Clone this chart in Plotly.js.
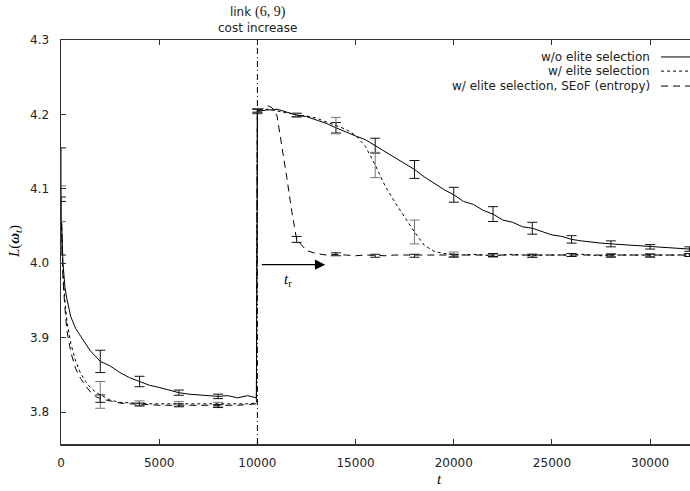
<!DOCTYPE html>
<html>
<head>
<meta charset="utf-8">
<script src="https://cdn.plot.ly/plotly-3.0.1.min.js"></script>
<style>html,body{margin:0;padding:0;background:#fff;}</style>
</head>
<body>
<div id="chart" style="width:690px;height:491px;"></div>
<script>
// ---- data ----
const t = [0,50,100,200,300,500,750,1000,1250,1500,1750,2000,
  2500,3000,3500,4000,4500,5000,5500,6000,6500,7000,7500,8000,8500,9000,9500,9950,
  10000,10250,10500,10750,11000,11250,11500,11750,
  12000,12500,13000,13500,14000,14500,15000,15500,16000,16500,17000,17500,18000,18500,19000,19500,
  20000,20500,21000,21500,22000,22500,23000,23500,24000,24500,25000,25500,26000,26500,27000,27500,
  28000,28500,29000,29500,30000,30500,31000,31500,32000];

const solidL = [4.083,4.030,4.000,3.968,3.952,3.928,3.912,3.902,3.892,3.882,3.875,3.868,
  3.862,3.853,3.846,3.841,3.836,3.833,3.829,3.826,3.824,3.823,3.821,3.821,3.822,3.819,3.822,3.819,
  4.204,4.205,4.206,4.206,4.207,4.205,4.203,4.202,
  4.199,4.197,4.193,4.188,4.182,4.176,4.171,4.166,4.158,4.150,4.143,4.134,4.126,4.116,4.107,4.099,
  4.092,4.083,4.079,4.071,4.066,4.058,4.055,4.049,4.047,4.043,4.038,4.036,4.032,4.030,4.028,4.027,
  4.026,4.025,4.024,4.023,4.022,4.022,4.021,4.020,4.019];

const dottedL = [4.080,4.020,3.985,3.950,3.922,3.892,3.868,3.852,3.841,3.833,3.827,3.823,
  3.816,3.813,3.812,3.812,3.811,3.811,3.811,3.811,3.810,3.810,3.810,3.810,3.810,3.810,3.811,3.812,
  4.205,4.206,4.207,4.206,4.205,4.204,4.202,4.201,
  4.199,4.198,4.195,4.190,4.185,4.180,4.172,4.157,4.132,4.104,4.082,4.062,4.042,4.024,4.016,4.013,
  4.012,4.011,4.012,4.011,4.010,4.011,4.012,4.011,4.010,4.011,4.011,4.010,4.011,4.012,4.011,4.010,
  4.011,4.011,4.010,4.011,4.011,4.010,4.011,4.011,4.011];

const dashedL = [4.086,4.015,3.978,3.940,3.910,3.880,3.858,3.845,3.835,3.827,3.821,3.818,
  3.815,3.812,3.811,3.810,3.810,3.809,3.809,3.809,3.809,3.808,3.808,3.808,3.808,3.809,3.810,3.811,
  4.205,4.207,4.212,4.209,4.198,4.158,4.115,4.070,
  4.032,4.017,4.013,4.011,4.012,4.011,4.010,4.011,4.010,4.010,4.011,4.011,4.010,4.010,4.011,4.010,
  4.010,4.011,4.010,4.010,4.011,4.010,4.010,4.011,4.010,4.011,4.010,4.010,4.011,4.010,4.010,4.011,
  4.010,4.010,4.011,4.010,4.010,4.011,4.010,4.010,4.011];

const barT = [0,2000,4000,6000,8000,10000,12000,14000,16000,18000,20000,22000,24000,26000,28000,30000,32000];
const solidErr  = [0.072,0.015,0.007,0.0035,0.003,0.003,0.002,0.007,0.010,0.012,0.010,0.010,0.008,0.005,0.004,0.003,0.003];
const dottedErr = [0.024,0.018,0.003,0.003,0.003,0.003,0.003,0.011,0.017,0.016,0.003,0.002,0.002,0.002,0.002,0.002,0.002];
const dashedErr = [0.003,0.005,0.002,0.002,0.002,0.002,0.004,0.002,0.002,0.002,0.002,0.002,0.002,0.002,0.002,0.002,0.002];

const seriesNames = ['w/o elite selection', 'w/ elite selection', 'w/ elite selection, SEoF (entropy)'];
const xTicks = [0,5000,10000,15000,20000,25000,30000];
const yTicks = [3.8,3.9,4.0,4.1,4.2,4.3];
const eventT = 10000;

// ---- styles ----
const dashes = ['solid', 'dot', '7px,5px'];
const barColors = ['#111', '#777', '#111'];
const series = [solidL, dottedL, dashedL];
const errs = [solidErr, dottedErr, dashedErr];

const traces = [];
series.forEach((s, i) => {
  traces.push({x: t, y: s, type: 'scatter', mode: 'lines', name: seriesNames[i],
    line: {color: '#000', width: 1, dash: dashes[i]}, hoverinfo: 'skip'});
});
series.forEach((s, i) => {
  traces.push({x: barT, y: barT.map(v => s[t.indexOf(v)]), type: 'scatter', mode: 'markers',
    marker: {size: 1, color: 'rgba(0,0,0,0)'}, showlegend: false, hoverinfo: 'skip',
    error_y: {type: 'data', array: errs[i], visible: true, color: barColors[i], thickness: 1, width: 5}});
});

// legend (text left of the sample, as in the original)
const legY = [0.958, 0.923, 0.886];
const annotations = [];
const shapes = [];
seriesNames.forEach((n, i) => {
  annotations.push({xref: 'paper', yref: 'paper', x: 0.9396, y: legY[i], xanchor: 'right', yanchor: 'middle',
    text: n, showarrow: false, font: {family: 'DejaVu Sans', size: 12, color: '#222'}});
  shapes.push({type: 'line', xref: 'paper', yref: 'paper', x0: 0.954, x1: 1.0, y0: legY[i], y1: legY[i],
    line: {color: '#000', width: 1, dash: dashes[i]}});
});

// event line and labels
shapes.push({type: 'line', xref: 'x', yref: 'paper', x0: eventT, x1: eventT, y0: 0, y1: 1,
  line: {color: '#000', width: 1, dash: '6px,3px,1px,3px'}});
annotations.push({xref: 'x', yref: 'paper', x: eventT, y: 1, yanchor: 'bottom', yshift: 3,
  text: 'link <span style="font-family:\'Liberation Serif\';font-size:14px">(6, 9)</span><br>cost increase',
  showarrow: false, font: {family: 'DejaVu Sans', size: 12, color: '#222'}});
// recovery-time arrow
annotations.push({xref: 'x', yref: 'y', axref: 'x', ayref: 'y', x: 13450, y: 3.998, ax: 10150, ay: 3.998,
  text: '', showarrow: true, arrowhead: 2, arrowsize: 1.7, arrowwidth: 1.2, arrowcolor: '#000', standoff: 0});
annotations.push({xref: 'x', yref: 'y', x: 11550, y: 3.978, text: '<i>t</i><sub>r</sub>', showarrow: false,
  font: {family: 'Liberation Serif', size: 15, color: '#000'}});
// axis titles
annotations.push({xref: 'paper', yref: 'paper', x: 0.601, y: 0, yshift: -35, yanchor: 'middle',
  text: '<i>t</i>', showarrow: false, font: {family: 'Liberation Serif', size: 15, color: '#000'}});
annotations.push({xref: 'paper', yref: 'paper', x: -0.073, y: 0.5, xanchor: 'center', yanchor: 'middle', textangle: -90,
  text: '<i>L</i>(<b><i>ω</i></b><sub><i>t</i></sub>)', showarrow: false,
  font: {family: 'Liberation Serif', size: 15, color: '#000'}});

const layout = {
  width: 690, height: 491,
  margin: {l: 61, r: 0, t: 40, b: 47},
  paper_bgcolor: '#fff', plot_bgcolor: '#fff',
  font: {family: 'DejaVu Sans', size: 12, color: '#222'},
  showlegend: false,
  xaxis: {range: [0, 32030], tickvals: xTicks, ticktext: xTicks.map(String), ticks: 'inside', ticklen: 5,
    tickcolor: '#333', tickwidth: 1, showline: true, linecolor: '#333', linewidth: 1.5, mirror: 'ticks',
    showgrid: false, zeroline: false, ticklabelstandoff: 7},
  yaxis: {range: [3.757, 4.3], tickvals: yTicks, tickformat: '.1f', ticks: 'inside', ticklen: 5,
    tickcolor: '#333', tickwidth: 1, showline: true, linecolor: '#333', linewidth: 1.5, mirror: false,
    showgrid: false, zeroline: false, ticklabelstandoff: 8},
  annotations: annotations,
  shapes: shapes
};

Plotly.newPlot('chart', traces, layout, {displayModeBar: false, staticPlot: true});
</script>
</body>
</html>
